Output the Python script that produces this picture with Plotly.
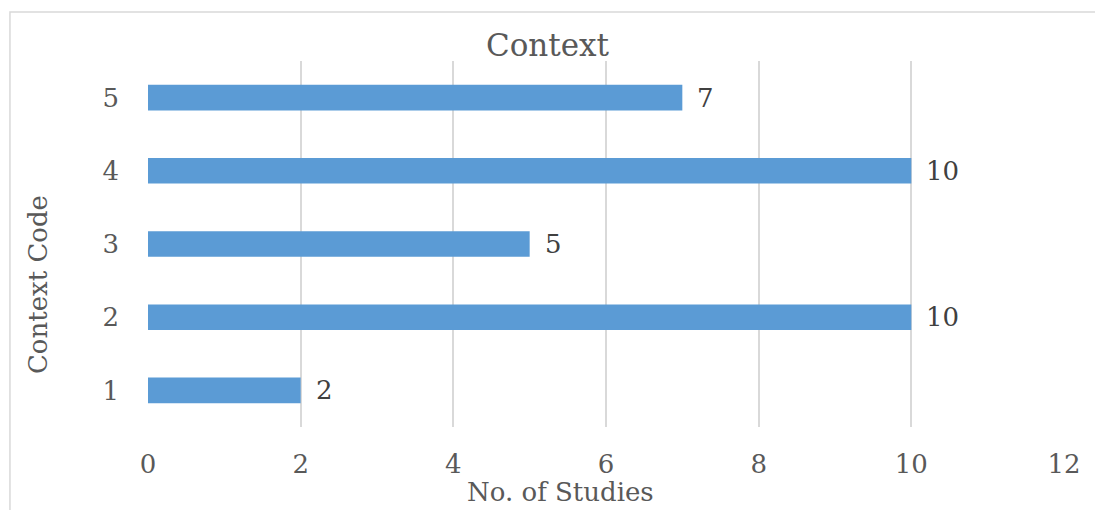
import plotly.graph_objects as go

context_codes = [1, 2, 3, 4, 5]
study_counts = [2, 10, 5, 10, 7]
x_ticks = [0, 2, 4, 6, 8, 10, 12]

BAR_COLOR = "#5B9BD5"
TEXT_COLOR = "#595959"
GRID_COLOR = "#D9D9D9"
FONT = "DejaVu Serif"

fig = go.Figure()
fig.add_trace(go.Bar(
    x=study_counts,
    y=context_codes,
    orientation="h",
    width=0.35,
    marker=dict(color=BAR_COLOR, line=dict(width=0)),
    hoverinfo="x+y",
))

# value labels to the right of each bar
for code, count in zip(context_codes, study_counts):
    fig.add_annotation(
        x=count, y=code, text=str(count), showarrow=False,
        xanchor="left", yanchor="middle", xshift=13,
        font=dict(family=FONT, size=26, color="#404040"),
    )

# axis titles
fig.add_annotation(
    x=0.45, y=-0.178, xref="paper", yref="paper", text="No. of Studies",
    showarrow=False, xanchor="center", yanchor="middle",
    font=dict(family=FONT, size=26, color=TEXT_COLOR),
)
fig.add_annotation(
    x=-0.120, y=0.388, xref="paper", yref="paper", text="Context Code",
    showarrow=False, textangle=-90, xanchor="center", yanchor="middle",
    font=dict(family=FONT, size=26, color=TEXT_COLOR),
)

# light frame around the chart
fig.add_shape(
    type="rect", xref="paper", yref="paper",
    x0=-0.1507, x1=1.05, y0=-0.3, y1=1.134,
    line=dict(color=GRID_COLOR, width=1.5), fillcolor="rgba(0,0,0,0)",
    layer="below",
)

fig.update_layout(
    width=1095, height=510,
    margin=dict(l=148, r=31, t=61, b=83),
    paper_bgcolor="white", plot_bgcolor="white",
    showlegend=False,
    font=dict(family=FONT, color=TEXT_COLOR),
    title=dict(
        text="Context", x=0.5, xref="container", xanchor="center",
        y=1 - 45 / 510, yref="container", yanchor="middle",
        font=dict(family=FONT, size=31, color=TEXT_COLOR),
    ),
    xaxis=dict(
        range=[0, 12], tickvals=x_ticks, ticktext=[str(v) for v in x_ticks],
        showgrid=True, gridcolor=GRID_COLOR, gridwidth=1.5,
        zeroline=False, showline=False, ticks="",
        ticklabelstandoff=19,
        tickfont=dict(family=FONT, size=26, color=TEXT_COLOR),
    ),
    yaxis=dict(
        range=[0.5, 5.5], tickvals=context_codes,
        ticktext=[str(v) for v in context_codes],
        showgrid=False, zeroline=False, showline=False, ticks="",
        ticklabelstandoff=28,
        tickfont=dict(family=FONT, size=26, color=TEXT_COLOR),
    ),
)

fig.write_html("out.html")
